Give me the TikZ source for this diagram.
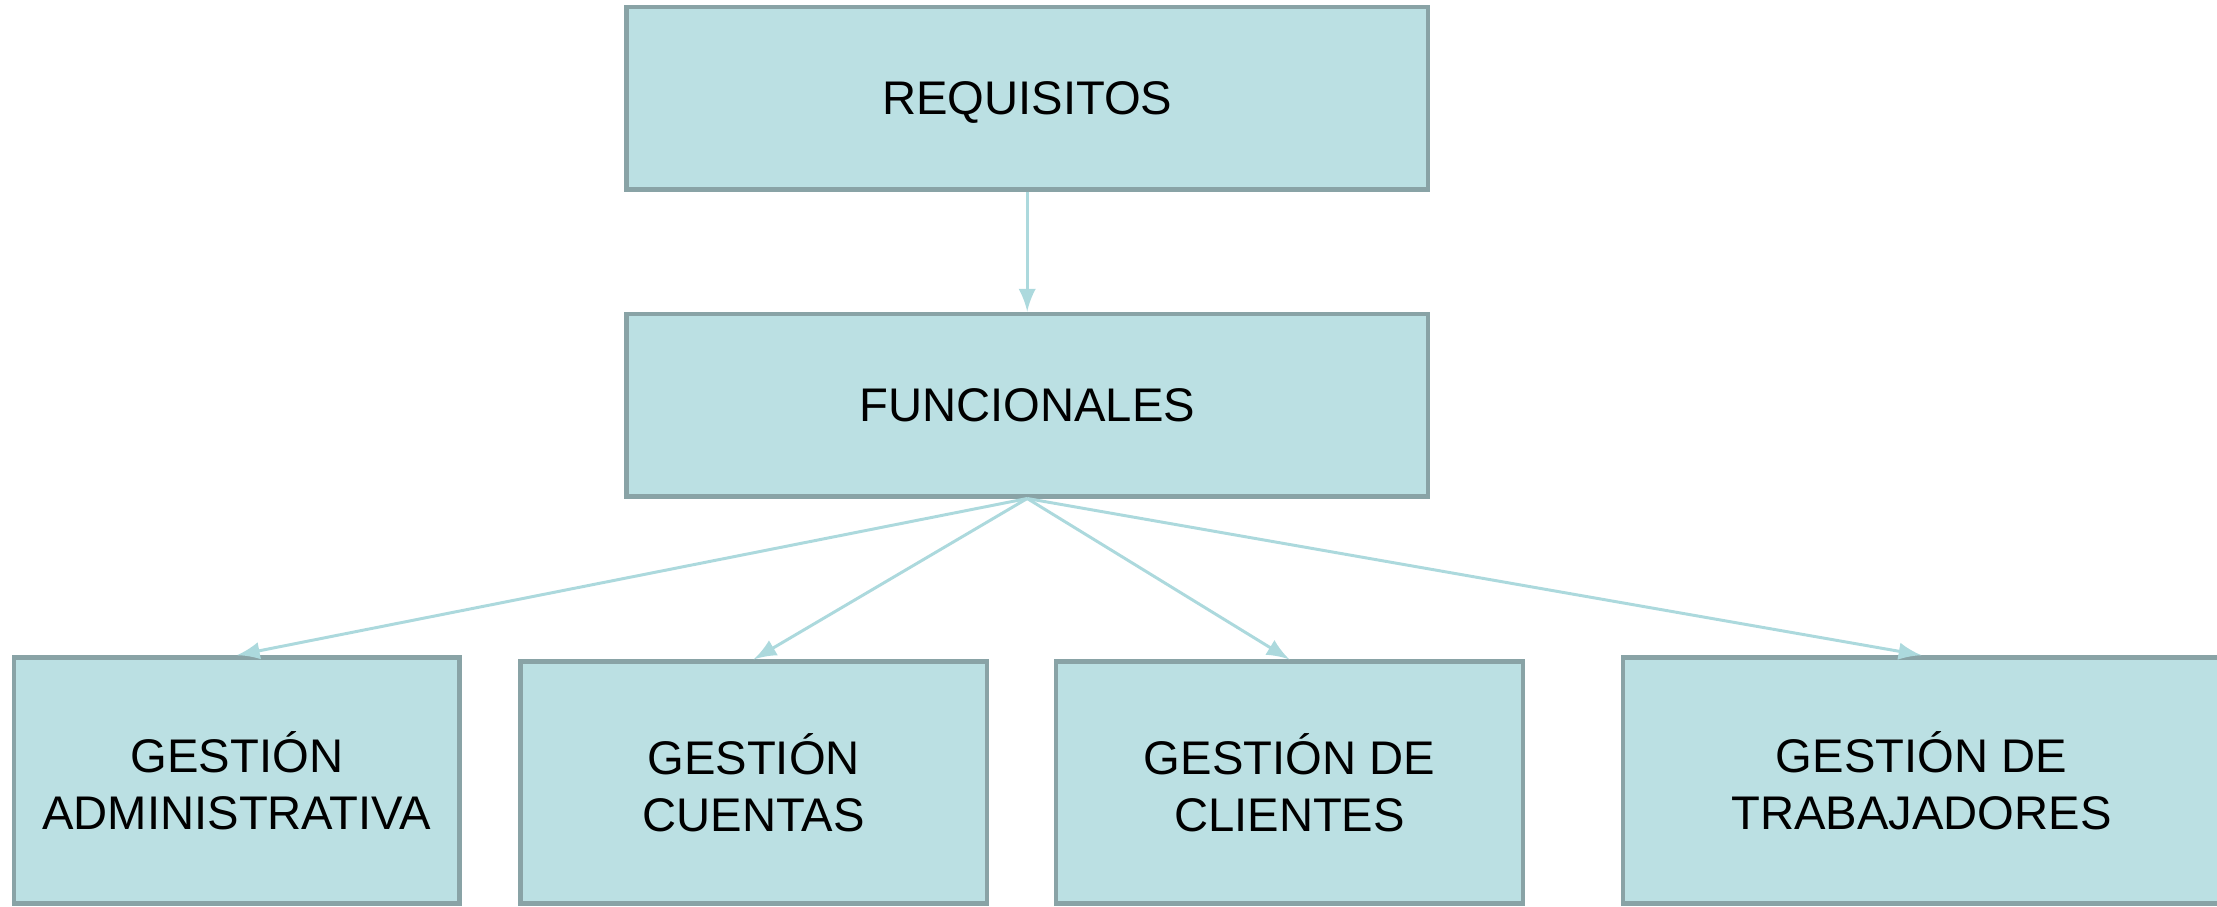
\documentclass[tikz,border=0pt]{standalone}
\usepackage{fontspec}
\setmainfont{Liberation Sans}
\usepackage{tikz}

\definecolor{cajafondo}{HTML}{BBE0E3}
\definecolor{cajaborde}{HTML}{89A3A6}
\definecolor{flechacol}{HTML}{ACD9DD}

\tikzset{
  caja/.style={draw=cajaborde, line width=0.9pt, fill=cajafondo, inner sep=0pt,
    align=center, font=\fontsize{9.5}{11.4}\selectfont},
  flecha/.style={-latex, color=flechacol, line width=0.6pt}
}

\begin{document}
\begin{tikzpicture}
\useasboundingbox (0,0) rectangle (15.68,6.41);

% Upper boxes
\node[caja, minimum width=5.67cm, minimum height=1.29cm, text depth=0pt] (req) at (7.265,5.715) {REQUISITOS};
\node[caja, minimum width=5.67cm, minimum height=1.29cm] (fun) at (7.265,3.545) {FUNCIONALES};

% Lower boxes
\node[caja, minimum width=3.15cm, minimum height=1.74cm] (adm) at (1.675,0.89) {GESTIÓN\\ADMINISTRATIVA};
\node[caja, minimum width=3.30cm, minimum height=1.71cm] (cue) at (5.33,0.875) {GESTIÓN\\CUENTAS};
\node[caja, minimum width=3.30cm, minimum height=1.71cm] (cli) at (9.12,0.875) {GESTIÓN DE\\CLIENTES};
\node[caja, minimum width=4.22cm, minimum height=1.74cm] (tra) at (13.59,0.89) {GESTIÓN DE\\TRABAJADORES};

% Arrows
\draw[flecha] (req.south) -- (fun.north);
\draw[flecha] (fun.south) -- (adm.north);
\draw[flecha] (fun.south) -- (cue.north);
\draw[flecha] (fun.south) -- (cli.north);
\draw[flecha] (fun.south) -- (tra.north);
\end{tikzpicture}
\end{document}
